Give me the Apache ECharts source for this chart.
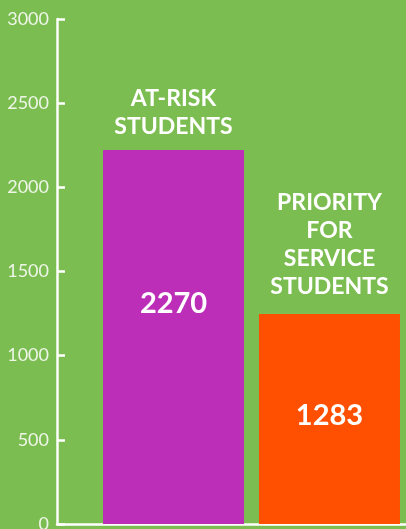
<!DOCTYPE html>
<html>
<head>
<meta charset="utf-8">
<script src="https://cdn.jsdelivr.net/npm/echarts@6/dist/echarts.min.js"></script>
<style>
  html, body { margin: 0; padding: 0; background: #7bbd50; }
  #chart { width: 406px; height: 529px; }
</style>
</head>
<body>
<div id="chart"></div>
<script>
// 數據
const groups = ['AT-RISK\nSTUDENTS', 'PRIORITY\nFOR\nSERVICE\nSTUDENTS'];
const barHeights = [2222, 1247];     // 圖上柱子實際高度
const printedValues = [2270, 1283];  // 柱內標示的數字
const barColors = ['#bc2eb8', '#fe5000'];
const valueOffsets = [-33, -3];      // 數字在柱內的上下微調
const nameDistances = [9, 13];       // 標題與柱頂的距離
const yMax = 3000;
const yStep = 500;

const chart = echarts.init(document.getElementById('chart'));

const series = groups.map((name, i) => ({
  type: 'bar',
  name: name,
  data: [barHeights[i]],
  barWidth: 141,
  barGap: '10.6%',
  itemStyle: { color: barColors[i] },
  label: {
    show: true,
    position: 'inside',
    offset: [0, valueOffsets[i]],
    formatter: () => String(printedValues[i]),
    color: '#ffffff',
    fontFamily: 'Lato',
    fontWeight: 'bold',
    fontSize: 29
  },
  markPoint: {
    symbol: 'circle',
    symbolSize: 1,
    itemStyle: { color: 'rgba(0,0,0,0)' },
    data: [{ type: 'max' }],
    label: {
      show: true,
      position: 'top',
      distance: nameDistances[i],
      formatter: () => name,
      color: '#ffffff',
      fontFamily: 'Lato',
      fontWeight: 'bold',
      fontSize: 23,
      lineHeight: 28,
      align: 'center'
    }
  }
}));

const option = {
  backgroundColor: '#7bbd50',
  animation: false,
  grid: { left: 57, top: 19, bottom: 5, width: 389, outerBoundsMode: 'none' },
  xAxis: {
    type: 'category',
    data: ['students'],
    axisLine: { lineStyle: { color: '#ffffff', width: 2.5 } },
    axisTick: { show: false },
    axisLabel: { show: false }
  },
  yAxis: {
    type: 'value',
    min: 0,
    max: yMax,
    interval: yStep,
    splitLine: { show: false },
    axisLine: { show: true, lineStyle: { color: '#ffffff', width: 2.5 } },
    axisTick: { show: true, inside: true, length: 8, lineStyle: { color: '#ffffff', width: 2.5 } },
    axisLabel: {
      margin: 8,
      color: '#eef6e8',
      fontFamily: 'Lato',
      fontSize: 18,
      formatter: v => String(v)
    }
  },
  series: series
};

chart.setOption(option);
</script>
</body>
</html>
